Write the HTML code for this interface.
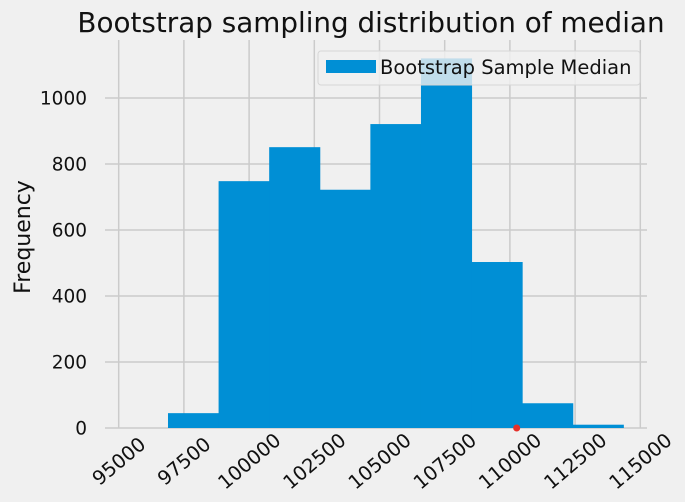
<!DOCTYPE html>
<html><head><meta charset="utf-8"><style>
body{margin:0;background:#f0f0f0;}
svg{display:block;font-family:"DejaVu Sans","Liberation Sans",sans-serif;}
</style></head><body>
<svg id="chart" width="685" height="502">
<rect width="685" height="502" fill="#f0f0f0"/>
<text x="371" y="32" font-size="27.8" text-anchor="middle" fill="#111">Bootstrap sampling distribution of median</text>
<g id="grid"></g><g id="bars"></g><g id="ticks"></g>
<text transform="translate(30,237) rotate(-90)" font-size="22" text-anchor="middle" fill="#111">Frequency</text>
<g>
<rect x="318" y="51" width="322" height="34" rx="3" fill="#f0f0f0" fill-opacity="0.8" stroke="#d6d6d6"/>
<rect x="326" y="60" width="50" height="13" fill="#008fd5"/>
<text x="380" y="74" font-size="19.5" fill="#111">Bootstrap Sample Median</text>
</g>
</svg>
<script>
const binStart = 96890;
const binWidth = 1940;
const counts = [45, 748, 851, 722, 921, 1120, 503, 75, 10];
const xTicks = [95000, 97500, 100000, 102500, 105000, 107500, 110000, 112500, 115000];
const yTicks = [0, 200, 400, 600, 800, 1000];
const markerValue = 110260;
const NS = "http://www.w3.org/2000/svg";
const X = v => 118.7 + (v - 95000) * 0.02608;
const Y = v => 428 - v * 0.33;
const L = 105, R = 647, T = 40, B = 428;
function mk(tag, attrs, parent){const e=document.createElementNS(NS,tag);for(const k in attrs)e.setAttribute(k,attrs[k]);parent.appendChild(e);return e;}
const grid=document.getElementById('grid'), bars=document.getElementById('bars'), ticks=document.getElementById('ticks');
xTicks.forEach(t=>{
  const l=mk('line',{x1:X(t),x2:X(t),y1:T,y2:B,stroke:'#cbcbcb','stroke-width':1.5},grid);
  
  
  const x=X(t), y=461;
  const tx=mk('text',{x:x,y:y+7,'font-size':19.5,'text-anchor':'middle',fill:'#111',transform:`rotate(-40 ${x} ${y})`},ticks);
  tx.textContent=t;
  
  
});
yTicks.forEach(t=>{
  const l=mk('line',{x1:L,x2:R,y1:Y(t),y2:Y(t),stroke:'#cbcbcb','stroke-width':1.5},grid);
  
  
  const tx=mk('text',{x:87,y:Y(t)+6.5,'font-size':18.5,'text-anchor':'end',fill:'#111'},ticks);
  tx.textContent=t;
  
  
});
counts.forEach((c,i)=>{
  const x0=X(binStart+i*binWidth), x1=X(binStart+(i+1)*binWidth);
  const r=mk('rect',{x:x0,y:Y(c),width:x1-x0+0.5,height:Y(0)-Y(c),fill:'#008fd5'},bars);
  
  
});
const dot=mk('circle',{cx:X(markerValue),cy:Y(0),r:3.5,fill:'#e5302a'},bars);


</script>
</body></html>
